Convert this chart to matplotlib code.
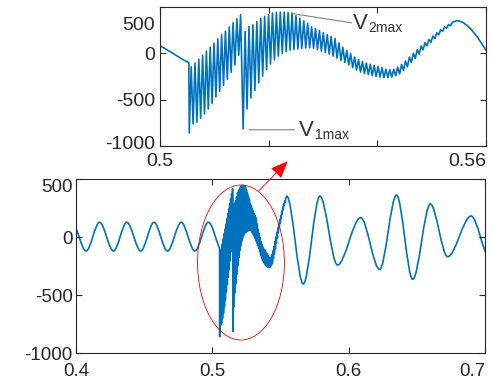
import numpy as np
import matplotlib
matplotlib.use('Agg')
import matplotlib.pyplot as plt
from matplotlib.path import Path
from matplotlib.patches import PathPatch, Ellipse, FancyArrowPatch, ArrowStyle
from matplotlib.transforms import ScaledTranslation

plt.rcParams['font.family'] = ['Liberation Sans', 'DejaVu Sans']
plt.rcParams['axes.unicode_minus'] = False

# slow wave before the fault: extrema (time in s, voltage)
pre_t = [0.3970, 0.4074, 0.4173, 0.4275, 0.4373, 0.4475, 0.4572,
         0.4671, 0.4772, 0.4872, 0.4971, 0.5053]
pre_v = [127, -121, 127, -121, 127, -121, 127, -121, 127, -121, 127, -100]

# first burst of spikes: bottoms and tops of each spike
b1_start, b1_period = 0.50539, 0.00070
b1_lo = [-859, -761, -743, -700, -655, -600, -540, -470, -410, -345,
         -280, -205, -125, -20]
b1_hi = [-145, -105, -62, -20, 25, 68, 110, 155, 200, 240, 285, 330,
         372, 416]

# second burst, decaying ripple on the slow swing
b2_start, b2_period = 0.51530, 0.00072
b2_lo = [-815, -600, -480, -400, -320, -245, -175, -115, -70, -30,
         0, 18, 35, 40, 48, 52, 58, 60, 55, 42,
         26, 10, -8, -30, -52, -75, -98, -125, -155, -180,
         -202, -218, -230, -240, -250, -256, -262, -262, -255, -242,
         -222, -185, -145, -100, -55, -8, 38, 80, 120, 160,
         200, 238, 272, 300]
b2_hi = [235, 290, 308, 344, 380, 398, 416, 435, 442, 445,
         445, 442, 435, 405, 378, 350, 325, 285, 268, 245,
         222, 202, 182, 160, 112, 65, 30, -5, -40, -68,
         -88, -105, -118, -130, -142, -155, -172, -178, -172, -150,
         -120, -82, -40, 0, 40, 78, 115, 150, 185, 222,
         255, 285, 310, 335]

# slow wave after the fault: extrema
post_t = [0.5546, 0.5667, 0.5789, 0.5918, 0.6088, 0.6227, 0.6351,
          0.6470, 0.6599, 0.6726, 0.6898, 0.7035]
post_v = [352, -405, 353, -241, 167, -279, 362, -365, 284, -170, 181, -180]

main_xticks = [0.4, 0.5, 0.6, 0.7]
main_xlabels = ['0.4', '0.5', '0.6', '0.7']
inset_xticks = [0.5, 0.52, 0.54, 0.56]
inset_xlabels = ['0.5', '', '', '0.56']
yticks = [-1000, -500, 0, 500]
ylabels = ['-1000', '-500', '0', '500']

blue = '#0072BD'
dark = '#262626'


def add_curve(verts, codes, ts, vs, slopes, first):
    verts.append((ts[0], vs[0]))
    codes.append(Path.MOVETO if first else Path.LINETO)
    for i in range(len(ts) - 1):
        dt = ts[i + 1] - ts[i]
        verts += [(ts[i] + dt / 3, vs[i] + slopes[i] * dt / 3),
                  (ts[i + 1] - dt / 3, vs[i + 1] - slopes[i + 1] * dt / 3),
                  (ts[i + 1], vs[i + 1])]
        codes += [Path.CURVE4] * 3


def add_zigzag(verts, codes, start, period, lo, hi):
    for k in range(len(lo)):
        verts += [(start + k * period, lo[k]), (start + (k + 0.5) * period, hi[k])]
        codes += [Path.LINETO, Path.LINETO]


verts, codes = [], []
pre_slopes = [0] * (len(pre_t) - 1) + [(pre_v[-1] - pre_v[-2]) / (pre_t[-1] - pre_t[-2])]
add_curve(verts, codes, pre_t, pre_v, pre_slopes, True)
add_zigzag(verts, codes, b1_start, b1_period, b1_lo, b1_hi)
add_zigzag(verts, codes, b2_start, b2_period, b2_lo, b2_hi)
add_curve(verts, codes, post_t, post_v, [0] * len(post_t), False)
signal = Path(verts, codes)

fig = plt.figure(figsize=(4.93, 3.83), dpi=100)
ax = fig.add_axes([76 / 493, 1 - 353 / 383, 409 / 493, 174 / 383])
ins = fig.add_axes([160 / 493, 1 - 146 / 383, 326 / 493, 139 / 383])

for a in (ax, ins):
    a.add_patch(PathPatch(signal, fill=False, edgecolor=blue, lw=1.2,
                          joinstyle='round', capstyle='round'))
    a.set_ylim(-1000, 500)
    a.set_yticks(yticks)
    a.set_yticklabels(ylabels)
    a.tick_params(direction='in', top=True, right=True, length=4, width=0.8,
                  colors=dark, labelsize=13.5)
    for s in a.spines.values():
        s.set_color(dark)
        s.set_linewidth(0.8)

ax.set_xlim(0.4, 0.7)
ax.set_xticks(main_xticks)
ax.set_xticklabels(main_xlabels)
ax.tick_params(axis='x', pad=7)
ax.tick_params(axis='y', pad=2.5)

ins.set_xlim(0.5, 0.56)
ins.set_xticks(inset_xticks)
ins.set_xticklabels(inset_xlabels)
ins.tick_params(labelsize=14)
ins.tick_params(axis='x', pad=5)
ins.tick_params(axis='y', pad=3.5)


def shift(lbl, dx, dy):
    lbl.set_transform(lbl.get_transform() + ScaledTranslation(dx / 72, dy / 72, fig.dpi_scale_trans))


# end labels pulled inside the figure
ax.get_xticklabels()[-1].set_ha('right')
ins.get_xticklabels()[-1].set_ha('right')
ax.get_yticklabels()[-1].set_va('top')
top_lbl = ins.get_yticklabels()[-1]
top_lbl.set_va('top')
shift(top_lbl, 0, -7)
shift(ins.get_yticklabels()[0], 0, 2.5)

# red ellipse around the transient and arrow to the zoom
ax.add_patch(Ellipse((0.5210, -220), 0.0637, 1336, fill=False, edgecolor='red', lw=0.6))
fig.patches.append(FancyArrowPatch((0.524, 0.5005), (0.5836, 0.5789), transform=fig.transFigure,
                                   arrowstyle=ArrowStyle('-|>', head_length=10.8, head_width=4.5),
                                   color='red', lw=0.6, shrinkA=0, shrinkB=0))


# peak annotations
def vlabel(x, y, sub):
    v = ins.text(x, y, 'V', fontsize=16, color='#333333', ha='left', va='baseline')
    ins.annotate(sub, xy=(1, 0), xycoords=v, xytext=(0.5, 1), textcoords='offset points',
                 fontsize=10, color='#333333', va='baseline')


ins.annotate('', xy=(0.52424, 430), xytext=(0.53529, 329),
             arrowprops=dict(arrowstyle='-', color='#808080', lw=0.8, shrinkA=0, shrinkB=0))
vlabel(0.53552, 264, '2max')
ins.annotate('', xy=(0.51638, -825), xytext=(0.52472, -825),
             arrowprops=dict(arrowstyle='-', color='#808080', lw=0.8, shrinkA=0, shrinkB=0))
vlabel(0.52558, -888, '1max')

fig.savefig('out.png', dpi=100)
